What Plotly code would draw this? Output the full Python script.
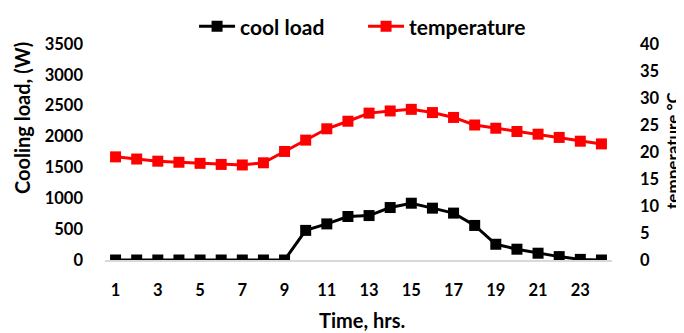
import plotly.graph_objects as go

hours = list(range(1, 25))
cool_load = [0, 0, 0, 0, 0, 0, 0, 0, 0, 480, 585, 705, 720, 850, 920, 840, 760, 560, 255, 175, 110, 55, 10, 0]
temperature = [19.1, 18.7, 18.3, 18.1, 17.9, 17.7, 17.6, 18.0, 20.1, 22.2, 24.3, 25.7, 27.2, 27.6, 27.9, 27.3, 26.4, 25.0, 24.4, 23.8, 23.3, 22.7, 22.0, 21.5]
x_ticks = list(range(1, 24, 2))
left_ticks = list(range(0, 3501, 500))
right_ticks = list(range(0, 41, 5))

font = "Lato"
tfs = 16.5
fig = go.Figure()
fig.add_trace(go.Scatter(x=hours, y=cool_load, name="cool load", mode="lines+markers",
                         line=dict(color="black", width=3),
                         marker=dict(symbol="square", size=11, color="black")))
fig.add_trace(go.Scatter(x=hours, y=temperature, name="temperature", mode="lines+markers",
                         line=dict(color="#ff0000", width=3),
                         marker=dict(symbol="square", size=11, color="#ff0000"), yaxis="y2"))

bold = dict(family=font, weight="bold", color="black")
fig.update_layout(
    width=676, height=325,
    margin=dict(l=97, r=72, t=36, b=73, autoexpand=False),
    paper_bgcolor="white", plot_bgcolor="white",
    font=dict(family=font, size=tfs, color="black"),
    showlegend=True,
    legend=dict(orientation="h", x=0.509, xanchor="center", y=1.08, yanchor="middle",
                font=dict(size=21, **bold), itemwidth=36, entrywidth=118,
                entrywidthmode="pixels", bgcolor="rgba(0,0,0,0)"),
    xaxis=dict(range=[0.5, 24.5], tickvals=x_ticks, showgrid=False, zeroline=False,
               showline=True, linecolor="#d9d9d9", linewidth=2, ticks="",
               ticklabelstandoff=14, tickfont=dict(size=tfs, **bold)),
    yaxis=dict(range=[0, 3500], tickvals=left_ticks, showgrid=False, zeroline=False,
               showline=False, ticks="", ticklabelstandoff=21,
               tickfont=dict(size=tfs, **bold)),
    yaxis2=dict(range=[0, 40], tickvals=right_ticks, overlaying="y", side="right",
                showgrid=False, zeroline=False, showline=False, ticks="",
                ticklabelstandoff=27, tickfont=dict(size=tfs, **bold)),
    annotations=[
        dict(text="Time, hrs.", xref="paper", yref="paper", x=0.507, y=-0.278,
             showarrow=False, xanchor="center", yanchor="middle", font=dict(size=20, **bold)),
        dict(text="Cooling load, (W)", xref="paper", yref="paper", x=-0.1637, y=0.657,
             showarrow=False, textangle=-90, xanchor="center", yanchor="middle",
             font=dict(size=20, **bold)),
        dict(text="temperature °C", xref="paper", yref="paper", x=1.118, y=0.509,
             showarrow=False, textangle=-90, xanchor="center", yanchor="middle",
             font=dict(size=17, **bold)),
    ],
)
fig.write_html("out.html")
